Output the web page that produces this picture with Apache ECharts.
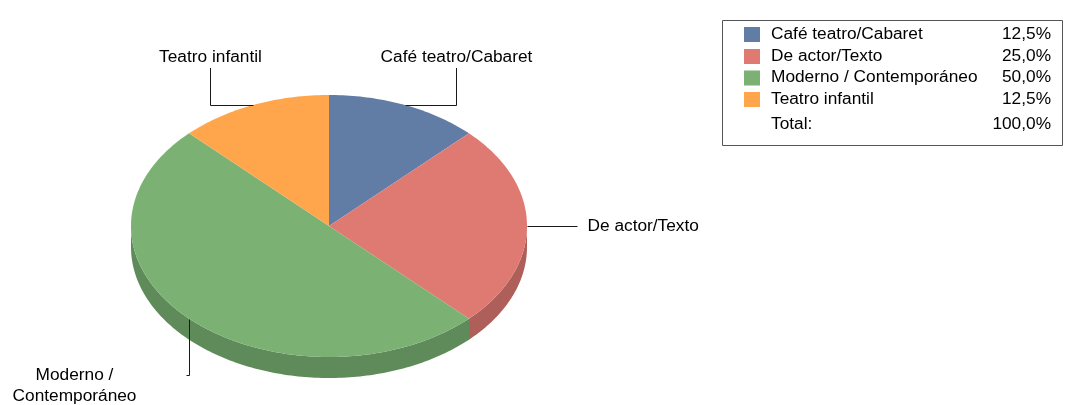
<!DOCTYPE html>
<html>
<head>
<meta charset="utf-8">
<script src="https://cdn.jsdelivr.net/npm/echarts@6/dist/echarts.min.js"></script>
<style>
  html, body { margin: 0; padding: 0; background: #fff; }
  #chart { width: 1070px; height: 405px; }
</style>
</head>
<body>
<div id="chart"></div>
<script>
// datos del gráfico
const categories = ['Café teatro/Cabaret', 'De actor/Texto', 'Moderno / Contemporáneo', 'Teatro infantil'];
const labelTexts = ['Café teatro/Cabaret', 'De actor/Texto', 'Moderno /\nContemporáneo', 'Teatro infantil'];
const values = [1, 2, 4, 1];
const colors = ['#627da5', '#df7a73', '#7bb173', '#ffa64d'];
const sideColors = ['#4d6283', '#ae5f5a', '#5f8b5a', '#c8823c'];

const total = values.reduce((a, b) => a + b, 0);
const pct = v => (v / total * 100).toFixed(1).replace('.', ',') + '%';

// geometría de la tarta (elipse)
const cx = 329, cy = 226, rx = 198, ry = 131, depth = 21;
const font = '17.3px "Liberation Sans", Arial, sans-serif';

const pt = (deg, dy = 0) => {
  const a = deg * Math.PI / 180;
  return [cx + rx * Math.sin(a), cy - ry * Math.cos(a) + dy];
};

const arc = (a0, a1, dy = 0) => {
  const pts = [];
  const n = Math.max(2, Math.ceil(a1 - a0));
  for (let k = 0; k <= n; k++) pts.push(pt(a0 + (a1 - a0) * k / n, dy));
  return pts;
};

const crisp = v => Math.round(v) + 0.5;

// posición de las etiquetas respecto al punto medio del sector
const leaders = [
  { type: 'up', dx: 51, top: 68 },
  { type: 'side', dx: 50 },
  { type: 'down', bottom: 375, tick: -3, textDx: -115 },
  { type: 'up', dx: -43, top: 68 }
];

const starts = [];
values.reduce((acc, v, i) => { starts[i] = acc; return acc + v; }, 0);

function renderItem(params, api) {
  const i = params.dataIndex;
  const a0 = starts[i] / total * 360;
  const a1 = (starts[i] + values[i]) / total * 360;
  const children = [];

  // lado visible (mitad delantera: 90°..270°)
  const s0 = Math.max(a0, 90), s1 = Math.min(a1, 270);
  if (s1 > s0) {
    const top = arc(s0, s1);
    const bottom = arc(s0, s1, depth).reverse();
    children.push({
      type: 'polygon',
      shape: { points: top.concat(bottom) },
      style: { fill: sideColors[i] }
    });
  }

  // cara superior
  children.push({
    type: 'polygon',
    shape: { points: [[cx, cy]].concat(arc(a0, a1)) },
    style: { fill: colors[i] }
  });

  // línea guía y etiqueta
  const p = pt((a0 + a1) / 2).map(crisp);
  const L = leaders[i];
  let line, tx, ty, align = 'center';
  if (L.type === 'up') {
    const x = p[0] + L.dx;
    line = [[p[0], p[1]], [x, p[1]], [x, L.top]];
    tx = x; ty = L.top - 11;
  } else if (L.type === 'side') {
    line = [[p[0], p[1]], [p[0] + L.dx, p[1]]];
    tx = p[0] + L.dx + 10; ty = p[1]; align = 'left';
  } else {
    line = [[p[0], p[1]], [p[0], L.bottom + 0.5], [p[0] + L.tick, L.bottom + 0.5]];
    tx = p[0] + L.textDx; ty = L.bottom + 11;
  }
  children.push({
    type: 'polyline',
    shape: { points: line },
    style: { stroke: '#1a1a1a', lineWidth: 1, fill: null }
  });
  children.push({
    type: 'text',
    style: {
      text: labelTexts[i], x: tx, y: ty, font: font, fill: '#000',
      align: align, verticalAlign: 'middle', lineHeight: 21
    }
  });

  return { type: 'group', children: children };
}

// leyenda con porcentajes
const legendEls = [{
  type: 'rect',
  shape: { x: 722.5, y: 20.5, width: 340, height: 125 },
  style: { fill: '#fff', stroke: '#555', lineWidth: 1 }
}];
const rowY = [34, 56, 77.5, 99];
categories.forEach((c, i) => {
  legendEls.push({
    type: 'rect',
    shape: { x: 744, y: rowY[i] - 7, width: 16, height: 15 },
    style: { fill: colors[i] }
  });
  legendEls.push({
    type: 'text',
    style: { text: c, x: 771, y: rowY[i], font: font, fill: '#000', verticalAlign: 'middle' }
  });
  legendEls.push({
    type: 'text',
    style: { text: pct(values[i]), x: 1051, y: rowY[i], font: font, fill: '#000', align: 'right', verticalAlign: 'middle' }
  });
});
legendEls.push({
  type: 'text',
  style: { text: 'Total:', x: 771, y: 124.5, font: font, fill: '#000', verticalAlign: 'middle' }
});
legendEls.push({
  type: 'text',
  style: { text: pct(total), x: 1051, y: 124.5, font: font, fill: '#000', align: 'right', verticalAlign: 'middle' }
});

const chart = echarts.init(document.getElementById('chart'));
chart.setOption({
  animation: false,
  graphic: legendEls,
  series: [{
    type: 'custom',
    coordinateSystem: 'none',
    renderItem: renderItem,
    data: values.map((v, i) => ({ name: categories[i], value: v }))
  }]
});
</script>
</body>
</html>
